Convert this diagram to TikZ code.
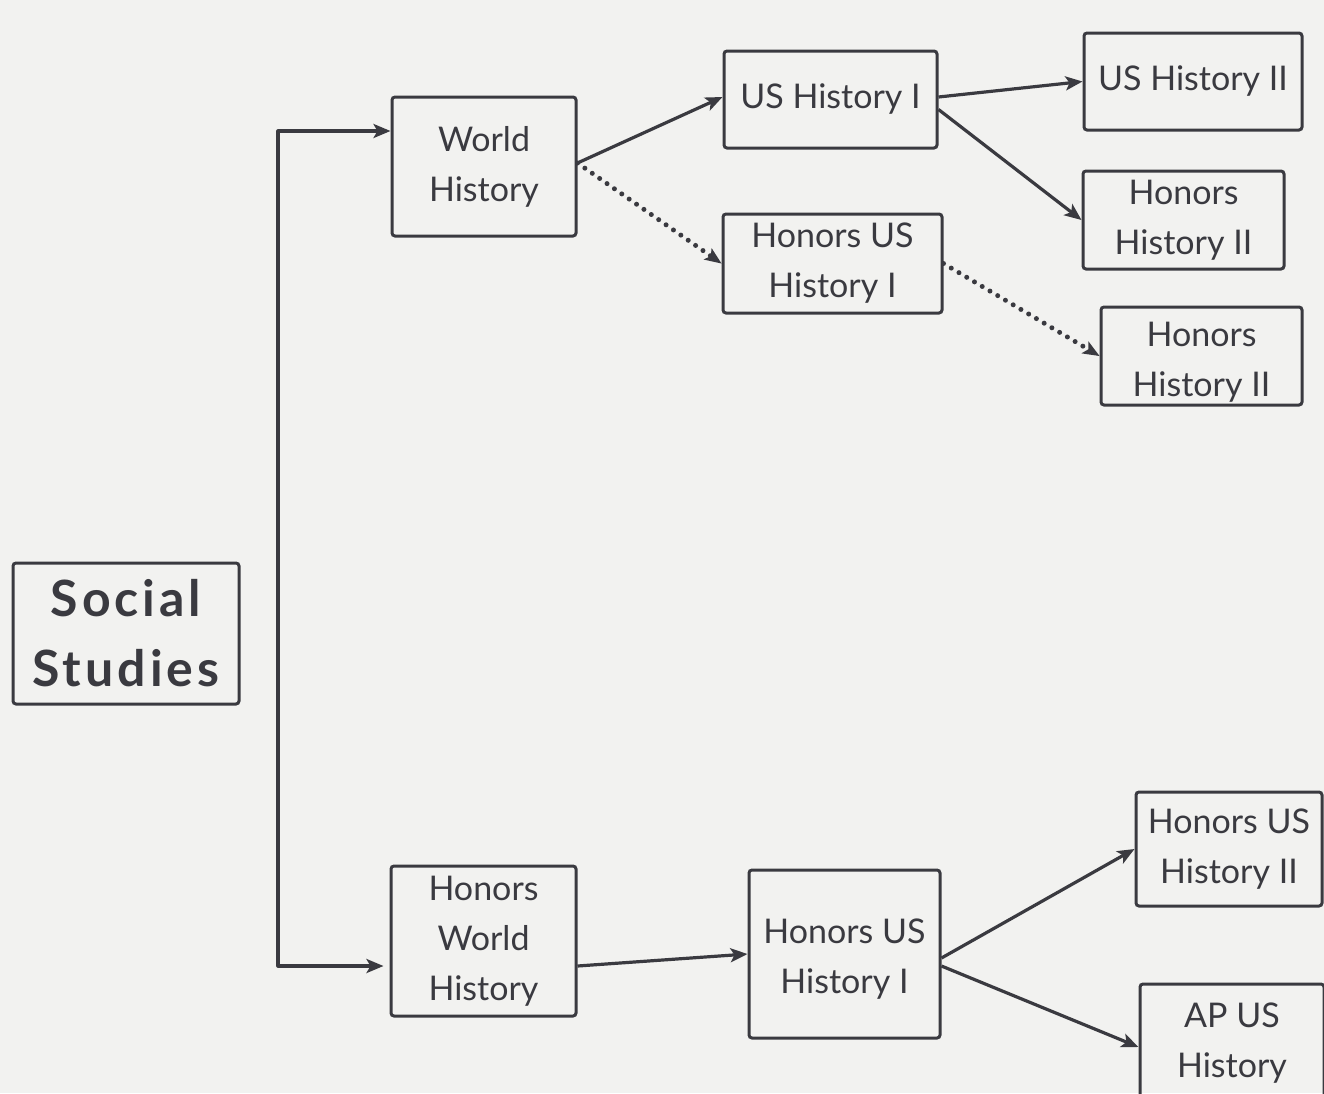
\documentclass[tikz,border=0pt]{standalone}
\usepackage{fontspec}
\setmainfont{Lato}
\newfontfamily\headfont[LetterSpace=8]{Lato Bold}
\usetikzlibrary{arrows.meta}
\definecolor{paper}{RGB}{242,242,240}
\definecolor{ink}{RGB}{58,58,64}
\begin{document}
\begin{tikzpicture}[x=1pt,y=-1pt,
  course/.style={draw=ink,line width=3pt,rounded corners=3pt,align=center,
    text=ink,font=\fontsize{34}{50}\selectfont,inner sep=0pt},
  lbl/.style={align=center,text=ink,font=\fontsize{34}{50}\selectfont,inner sep=0pt},
  tip/.style={-{Stealth[length=17pt,width=14pt,inset=4pt]}},
  arr/.style={draw=ink,line width=3.2pt,tip},
  dotarr/.style={draw=ink,line width=5pt,line cap=round,dash pattern=on 0pt off 9pt,
    -{Stealth[length=17pt,width=14pt,inset=4pt,line cap=butt,line width=0pt]}}]
  \useasboundingbox[fill=paper] (0,0) rectangle (1324,1093);
  \clip (0,0) rectangle (1324,1093);

  % root
  \node[course,minimum width=226pt,minimum height=141pt,
    font=\headfont\fontsize{50}{70}\selectfont] (ss) at (126,633.5) {Social\\Studies};

  % standard track
  \node[course,minimum width=184pt,minimum height=139pt] (wh) at (484,166.5) {World\\History};
  \node[course,minimum width=213pt,minimum height=97pt] (us1) at (830.5,99.5) {US History I};
  \node[course,minimum width=219pt,minimum height=99pt] (hus1a) at (832.5,263.5) {Honors US\\History I};
  \node[course,minimum width=218pt,minimum height=97pt] (us2) at (1193,81.5) {US History II};
  \node[course,minimum width=201pt,minimum height=98pt] (hh2a) at (1183.5,220) {Honors\\History II};
  \node[course,minimum width=201pt,minimum height=98pt,
    label={[lbl,yshift=-6pt]center:{Honors\\History II}}] (hh2b) at (1201.5,356) {};

  % honors track
  \node[course,minimum width=185pt,minimum height=150pt] (hwh) at (483.5,941) {Honors\\World\\History};
  \node[course,minimum width=191pt,minimum height=168pt,
    label={[lbl,yshift=-5pt]center:{Honors US\\History I}}] (hus1b) at (844.5,954) {};
  \node[course,minimum width=186pt,minimum height=114pt] (hus2) at (1229,849) {Honors US\\History II};
  \node[course,minimum width=184pt,minimum height=124pt,
    label={[lbl,yshift=3pt]center:{AP US\\History}}] (ap) at (1232,1046) {};

  % splitter line
  \coordinate (top) at (278,131);
  \coordinate (bot) at (278,966);
  \draw[draw=ink,line width=3.2pt,line join=round] (top -| wh.west) ++(-14,0) -- (top) -- (bot) -- ++(14,0);
  \draw[arr] (top) -- (top -| wh.west);
  \draw[arr] (bot) -- ([xshift=-6pt]bot -| hwh.west);

  % connectors
  \coordinate (whout) at ([yshift=3.5pt]wh.east);
  \draw[arr] (whout) -- ([yshift=2.5pt]us1.west);
  \draw[dotarr] (whout) -- (hus1a.west);
  \draw[arr] ([yshift=2.5pt]us1.east) -- (us2.west);
  \draw[arr] ([yshift=-10pt]us1.east) -- (hh2a.west);
  \draw[dotarr] (hus1a.east) -- (hh2b.west);
  \draw[arr] ([yshift=-25pt]hwh.east) -- (hus1b.west);
  \draw[arr] ([yshift=-4pt]hus1b.east) -- (hus2.west);
  \draw[arr] ([yshift=-12pt]hus1b.east) -- ([yshift=-1pt]ap.west);
\end{tikzpicture}
\end{document}
